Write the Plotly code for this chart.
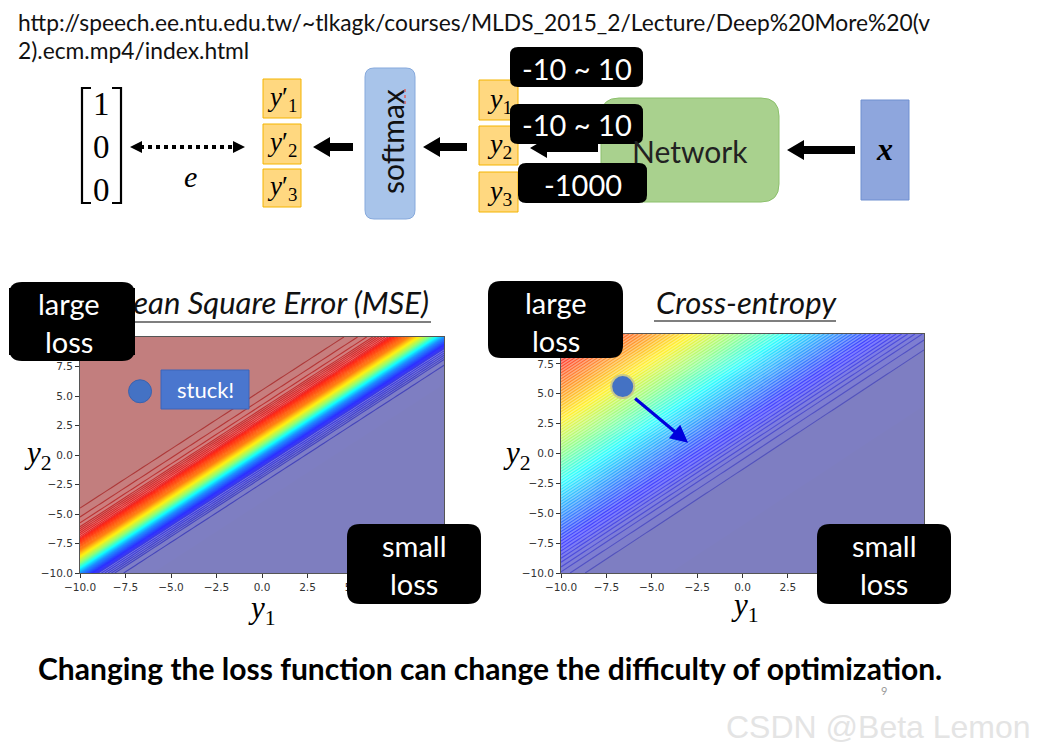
import plotly.graph_objects as go

# ---------------- data ----------------
grid_coords = [-10, -9, -8, -7, -6, -5, -4, -3, -2, -1, 0, 1, 2, 3, 4, 5, 6, 7, 8, 9, 10]
diff_y2_minus_y1 = [-20, -19, -18, -17, -16, -15, -14, -13, -12, -11, -10, -9, -8, -7, -6, -5, -4, -3, -2, -1,
                    0, 1, 2, 3, 4, 5, 6, 7, 8, 9, 10, 11, 12, 13, 14, 15, 16, 17, 18, 19, 20]
mse_profile = [0.0, 0.0, 0.0, 0.0, 0.0, 0.0, 0.0, 0.0, 0.0, 0.0, 0.0, 0.0, 0.0, 0.0, 0.0, 0.0, 0.0, 0.005, 0.03, 0.14,
               0.50, 1.07, 1.55, 1.81, 1.93, 1.97, 1.99, 2.0, 2.0, 2.0, 2.0, 2.0, 2.0, 2.0, 2.0, 2.0, 2.0, 2.0, 2.0, 2.0, 2.0]
ce_profile = [0.0, 0.0, 0.0, 0.0, 0.0, 0.0, 0.0, 0.0, 0.0, 0.0, 0.0, 0.0, 0.0, 0.0, 0.0, 0.01, 0.02, 0.05, 0.13, 0.31,
              0.69, 1.31, 2.13, 3.05, 4.02, 5.01, 6.0, 7.0, 8.0, 9.0, 10.0, 11.0, 12.0, 13.0, 14.0, 15.0, 16.0, 17.0, 18.0, 19.0, 20.0]
tick_values = [-10.0, -7.5, -5.0, -2.5, 0.0, 2.5, 5.0, 7.5, 10.0]
mse_ball = ([-6.7], [5.4])
ce_ball = ([-6.6], [5.6])
ce_step_start = (-6.0, 4.7)
ce_step_end = (-3.0, 0.9)
range_labels = ["-10 ~ 10", "-10 ~ 10", "-1000"]

offset = -diff_y2_minus_y1[0]
z_mse = [[mse_profile[(yv - xv) + offset] for xv in grid_coords] for yv in grid_coords]
z_ce = [[ce_profile[(yv - xv) + offset] for xv in grid_coords] for yv in grid_coords]

jet = [[0.0, "rgb(0,0,128)"], [0.11, "rgb(0,0,255)"], [0.125, "rgb(0,0,255)"], [0.34, "rgb(0,220,255)"],
       [0.375, "rgb(0,255,255)"], [0.5, "rgb(124,255,121)"], [0.64, "rgb(255,240,0)"], [0.66, "rgb(255,225,0)"],
       [0.89, "rgb(255,20,0)"], [0.91, "rgb(230,0,0)"], [1.0, "rgb(128,0,0)"]]
# jet for the contour lines, with slightly lighter ends
jet_lines = [[0.0, "rgb(60,60,185)"], [0.11, "rgb(40,40,255)"], [0.125, "rgb(30,30,255)"], [0.34, "rgb(0,220,255)"],
             [0.375, "rgb(0,255,255)"], [0.5, "rgb(124,255,121)"], [0.64, "rgb(255,240,0)"],
             [0.66, "rgb(255,225,0)"], [0.89, "rgb(255,20,0)"], [0.91, "rgb(235,20,20)"], [1.0, "rgb(170,45,45)"]]

W, H = 1043, 753
PAGE_OFF = 8  # the page body margin shifts the figure by this many pixels


def px(x):
    return (x - PAGE_OFF) / W


def py(y):
    return 1 - (y - PAGE_OFF) / H


fig = go.Figure()


def add_contour(z, xa, ya, zmax, step, line_op):
    fig.add_trace(go.Contour(x=grid_coords, y=grid_coords, z=z, xaxis=xa, yaxis=ya,
                             colorscale=jet, zmin=0, zmax=zmax, showscale=False, opacity=0.5,
                             contours=dict(start=0, end=zmax, size=step, coloring="fill", showlines=False),
                             line=dict(width=0), hoverinfo="skip"))
    fig.add_trace(go.Contour(x=grid_coords, y=grid_coords, z=z, xaxis=xa, yaxis=ya,
                             colorscale=jet_lines, zmin=0, zmax=zmax, showscale=False, opacity=line_op,
                             contours=dict(start=step, end=zmax - step / 2, size=step, coloring="lines"),
                             line=dict(width=1.1), hoverinfo="skip"))


add_contour(z_mse, "x", "y", 2.0, 0.02, 0.85)
add_contour(z_ce, "x2", "y2", 20.0, 0.25, 0.65)

# balls
fig.add_trace(go.Scatter(x=mse_ball[0], y=mse_ball[1], xaxis="x", yaxis="y", mode="markers",
                         marker=dict(size=23, color="#4472C4", line=dict(color="#3A62AE", width=1)),
                         hoverinfo="skip", showlegend=False))
fig.add_trace(go.Scatter(x=ce_ball[0], y=ce_ball[1], xaxis="x2", yaxis="y2", mode="markers",
                         marker=dict(size=23, color="#4472C4", line=dict(color="#C9C98A", width=2)),
                         hoverinfo="skip", showlegend=False))

axis_common = dict(range=[-10, 10], tickvals=tick_values, tickformat=".1f", ticks="outside", ticklen=4,
                   tickcolor="#333", tickfont=dict(family="DejaVu Sans", size=10.5, color="#333"),
                   showgrid=False, zeroline=False, showline=True, linecolor="#555", linewidth=1,
                   mirror=True, fixedrange=True)

fig.update_layout(
    width=W, height=H, margin=dict(l=0, r=0, t=0, b=0, pad=0, autoexpand=False),
    paper_bgcolor="white", plot_bgcolor="rgba(0,0,0,0)", showlegend=False,
    xaxis=dict(domain=[px(80), px(444)], anchor="y", **axis_common),
    yaxis=dict(domain=[py(573), py(337)], anchor="x", **axis_common),
    xaxis2=dict(domain=[px(561), px(924)], anchor="y2", **axis_common),
    yaxis2=dict(domain=[py(573), py(334)], anchor="x2", **axis_common),
)

shapes = []
annotations = []


def rrect(x0, y0, x1, y1, r, fill, line_color=None, lw=0):
    p = (f"M {px(x0 + r)},{py(y0)} L {px(x1 - r)},{py(y0)} Q {px(x1)},{py(y0)} {px(x1)},{py(y0 + r)} "
         f"L {px(x1)},{py(y1 - r)} Q {px(x1)},{py(y1)} {px(x1 - r)},{py(y1)} "
         f"L {px(x0 + r)},{py(y1)} Q {px(x0)},{py(y1)} {px(x0)},{py(y1 - r)} "
         f"L {px(x0)},{py(y0 + r)} Q {px(x0)},{py(y0)} {px(x0 + r)},{py(y0)} Z")
    shapes.append(dict(type="path", xref="paper", yref="paper", path=p, fillcolor=fill,
                       line=dict(color=line_color or fill, width=lw), layer="above"))


def rect(x0, y0, x1, y1, fill, line_color, lw=1):
    shapes.append(dict(type="rect", xref="paper", yref="paper", x0=px(x0), x1=px(x1), y0=py(y1), y1=py(y0),
                       fillcolor=fill, line=dict(color=line_color, width=lw), layer="above"))


def left_arrow(xt, xe, yc, hl=17, hh=10, sh=4):
    pts = [(xt, yc), (xt + hl, yc - hh), (xt + hl, yc - sh), (xe, yc - sh), (xe, yc + sh),
           (xt + hl, yc + sh), (xt + hl, yc + hh)]
    p = "M " + " L ".join(f"{px(a)},{py(b)}" for a, b in pts) + " Z"
    shapes.append(dict(type="path", xref="paper", yref="paper", path=p, fillcolor="black",
                       line=dict(color="black", width=0), layer="above"))


def text(x, y, s, size, color="black", family="Lato", angle=0, xanchor="center"):
    annotations.append(dict(x=px(x), y=py(y), xref="paper", yref="paper", text=s, showarrow=False,
                            xanchor=xanchor, yanchor="middle", textangle=angle,
                            font=dict(family=family, size=size, color=color)))


def black_block(x0, y0, x1, y1):
    # opaque black annotation block (drawn above earlier texts)
    annotations.append(dict(x=px((x0 + x1) / 2), y=py((y0 + y1) / 2), xref="paper", yref="paper", text=" ",
                            showarrow=False, xanchor="center", yanchor="middle", width=x1 - x0,
                            height=y1 - y0, bgcolor="black", borderpad=0, borderwidth=0,
                            font=dict(size=8, color="black")))


# URL
text(16, 22, "http://speech.ee.ntu.edu.tw/~tlkagk/courses/MLDS_2015_2/Lecture/Deep%20More%20(v", 22.8,
     color="#111", xanchor="left")
text(16, 50, "2).ecm.mp4/index.html", 22.8, color="#111", xanchor="left")

# matrix
bracket_l = f"M {px(91)},{py(88)} L {px(82)},{py(88)} L {px(82)},{py(203)} L {px(91)},{py(203)}"
bracket_r = f"M {px(112)},{py(88)} L {px(121)},{py(88)} L {px(121)},{py(203)} L {px(112)},{py(203)}"
for b in (bracket_l, bracket_r):
    shapes.append(dict(type="path", xref="paper", yref="paper", path=b, line=dict(color="black", width=2.2),
                       layer="above"))
for val, yy in zip(["1", "0", "0"], [104, 147, 190]):
    text(101, yy, val, 33, family="Liberation Serif")

# dotted double arrow
shapes.append(dict(type="line", xref="paper", yref="paper", x0=px(140), x1=px(236), y0=py(147), y1=py(147),
                   line=dict(color="black", width=4, dash="dot"), layer="above"))
for tip, base in ((130, 142), (245, 233)):
    p = f"M {px(tip)},{py(147)} L {px(base)},{py(141)} L {px(base)},{py(153)} Z"
    shapes.append(dict(type="path", xref="paper", yref="paper", path=p, fillcolor="black",
                       line=dict(color="black", width=0), layer="above"))
text(190, 176, "<i>e</i>", 30, family="Liberation Serif")

# y' boxes
for i, (y0, y1) in enumerate([(79, 118), (124, 164), (169, 207)]):
    rect(263, y0, 301, y1, "#FFD880", "#F4B400", 1)
    text(282, (y0 + y1) / 2, f"<i>y</i>′<sub>{i + 1}</sub>", 27, family="Liberation Serif")

left_arrow(313, 353, 147)

# softmax box
rrect(365, 68, 415, 219, 9, "#A8C4EA", "#86A9DC", 1)
text(392, 142, "softmax", 30, color="#111", angle=-90)
shapes.append(dict(type="line", xref="paper", yref="paper", x0=px(405), x1=px(405), y0=py(89), y1=py(106),
                   line=dict(color="#E06060", width=1.5, dash="dot"), layer="above"))

left_arrow(423, 467, 147)

# y boxes
for i, (y0, y1) in enumerate([(80, 120), (126, 165), (172, 212)]):
    rect(479, y0, 518, y1, "#FFD880", "#F4B400", 1)
    text(499, (y0 + y1) / 2, f"<i>y</i><sub>{i + 1}</sub>", 28, family="Liberation Serif")

# Network box
rrect(601, 98, 779, 202, 18, "#A9D18E", "#8CC06C", 1)
text(690, 151, "Network", 30, color="#222")

left_arrow(530, 598, 148)
left_arrow(787, 855, 150)

# x box
rect(861, 100, 909, 200, "#8EA6DD", "#6E8FD0", 1)
text(884, 149, "<b><i>x</i></b>", 32, family="Liberation Serif")

# range label boxes
for lbl, (x0, y0, x1, y1) in zip(range_labels, [(510, 47, 643, 87), (510, 104, 643, 144), (518, 163, 647, 203)]):
    rrect(x0, y0, x1, y1, 8, "black")
    text((x0 + x1) / 2, (y0 + y1) / 2 + 1, lbl, 29, color="white")

# stuck! button
rect(161, 370, 249, 409, "#4A76CE", "#3C65B8", 1)
text(205, 389, "stuck!", 22, color="white")

# panel titles and underlines
text(431, 302, "<i>Mean Square Error (MSE)</i>", 31, color="#111", xanchor="right")
text(654, 302, "<i>Cross-entropy</i>", 31, color="#111", xanchor="left")
shapes.append(dict(type="line", xref="paper", yref="paper", x0=px(120), x1=px(431), y0=py(322), y1=py(322),
                   line=dict(color="#555", width=1.5), layer="above"))
shapes.append(dict(type="line", xref="paper", yref="paper", x0=px(654), x1=px(836), y0=py(321), y1=py(321),
                   line=dict(color="#555", width=1.5), layer="above"))

# large / small loss boxes
for (x0, y0, x1, y1), word in zip([(9, 282, 135, 361), (488, 281, 623, 358), (347, 524, 481, 604), (817, 524, 951, 604)],
                                  ["large", "large", "small", "small"]):
    rrect(x0, y0, x1, y1, 13, "black")
    if x0 == 9:
        black_block(x0, y0 + 6, x1, y1 - 6)
        black_block(x0 + 13, y0, x1 - 13, y1)
        cx = 69
    else:
        cx = (x0 + x1) / 2
    text(cx, y0 + 21, word, 29, color="white")
    text(cx, y0 + 59, "loss", 29, color="white")

# axis labels
for x, y, s in [(38, 455, "<i>y</i><sub>2</sub>"), (262, 610, "<i>y</i><sub>1</sub>"),
                (517, 455, "<i>y</i><sub>2</sub>"), (745, 607, "<i>y</i><sub>1</sub>")]:
    text(x, y, s, 31, family="Liberation Serif")

# CE gradient step arrow
annotations.append(dict(x=ce_step_end[0], y=ce_step_end[1], ax=ce_step_start[0], ay=ce_step_start[1],
                        xref="x2", yref="y2", axref="x2", ayref="y2", text="", showarrow=True,
                        arrowhead=2, arrowsize=1.1, arrowwidth=3.2, arrowcolor="#0000DD"))

# footer
text(36, 668, "<b>Changing the loss function can change the difficulty of optimization.</b>", 30,
     xanchor="left")
text(884, 690, "9", 11, color="#9a9a9a")
text(878, 727, "CSDN @Beta Lemon", 32, color="#E4E4E4", family="Liberation Sans")

fig.update_layout(shapes=shapes, annotations=annotations)
fig.write_html("out.html")
